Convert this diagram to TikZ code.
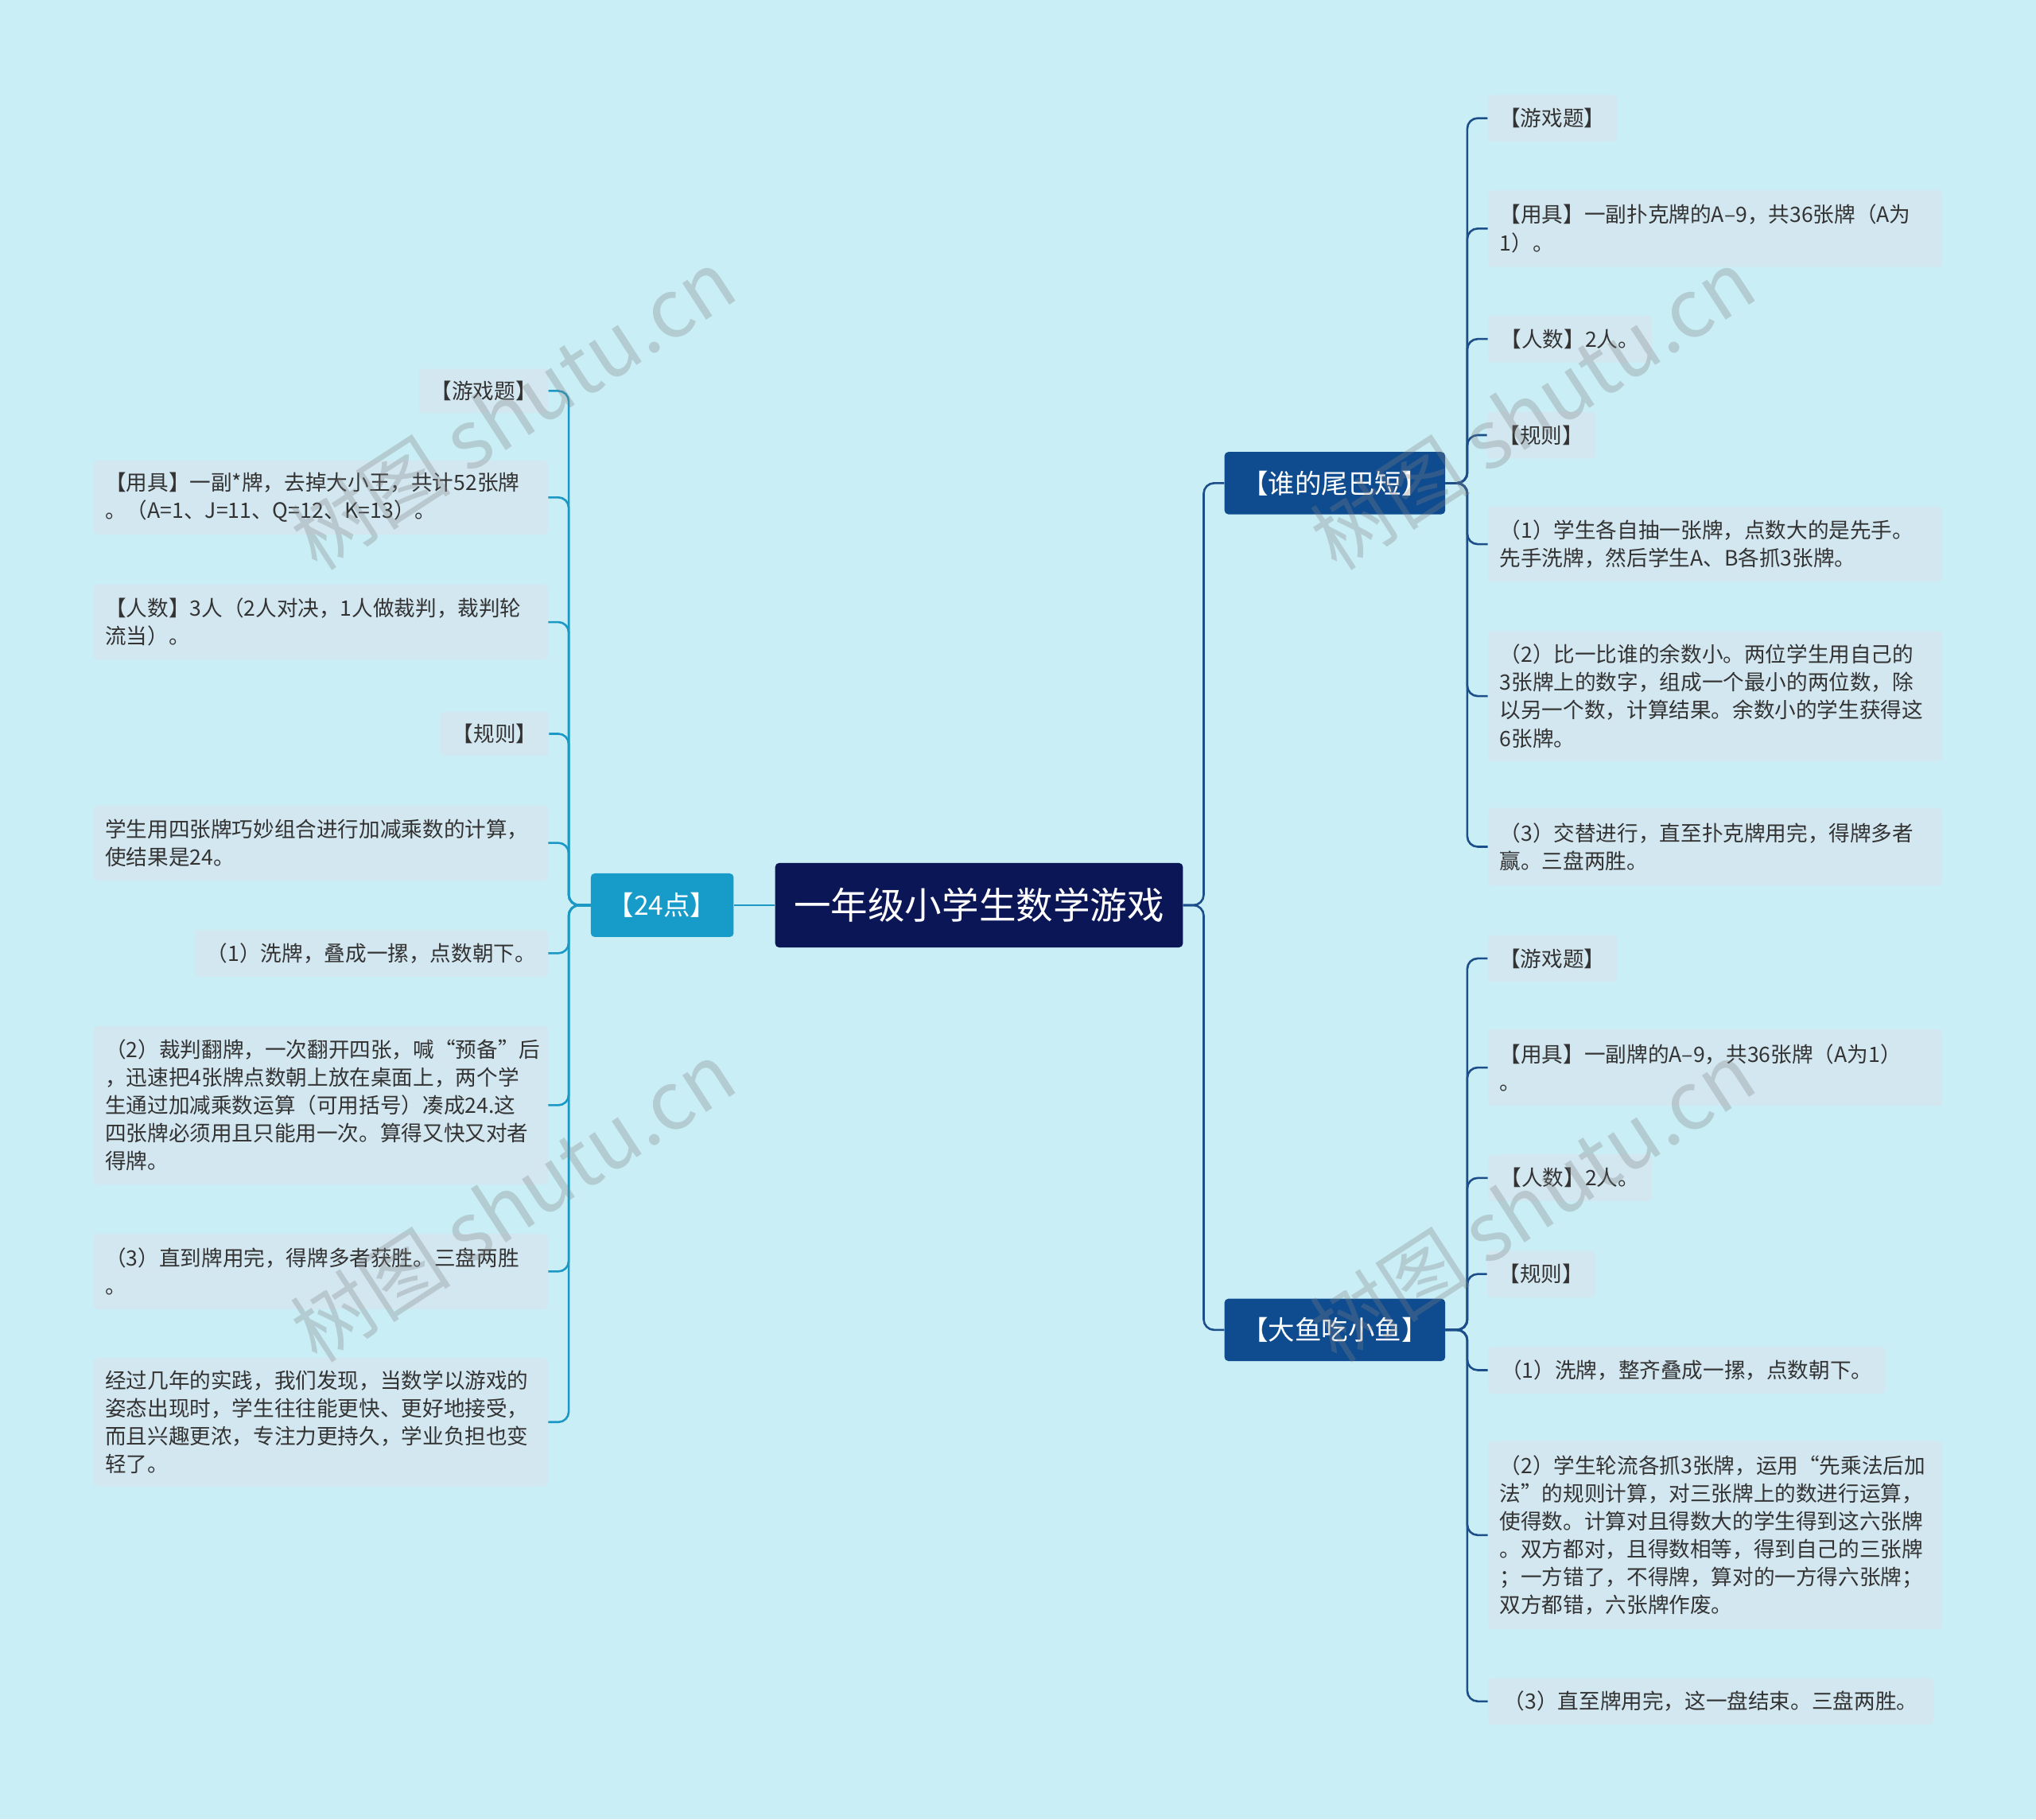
\documentclass[tikz,border=0pt]{standalone}
\usepackage{fontspec}
\setmainfont{Noto Sans CJK SC}
\begin{document}
\begin{tikzpicture}[x=1pt,y=-1pt,
 leaf/.style={fill=leafc,rounded corners=3pt,inner xsep=9pt,inner ysep=0pt,align=left,font=\fontsize{16.3}{21.5}\selectfont,text=black!80},
 rl/.style={draw=rline,line width=1.6pt,rounded corners=8pt},
 ll/.style={draw=lline,line width=1.6pt,rounded corners=8pt},
 wm/.style={font=\fontsize{62}{64}\selectfont,text=gray,opacity=0.3,rotate=33}]
\definecolor{bg}{HTML}{C9EEF6}
\definecolor{leafc}{HTML}{D3E7F1}
\definecolor{rootc}{HTML}{0B1657}
\definecolor{rbr}{HTML}{0F4C8F}
\definecolor{lbr}{HTML}{179BC8}
\definecolor{rline}{HTML}{1C4E8A}
\definecolor{lline}{HTML}{1B98C4}
\fill[bg] (0,0) rectangle (1568,1401);
\useasboundingbox (0,0) rectangle (1568,1401);
% root and branches
\node[fill=rootc,text=white,rounded corners=3pt,minimum width=314pt,minimum height=65pt,font=\fontsize{28.5}{32}\selectfont] (root) at (754,697) {一年级小学生数学游戏};
\node[fill=lbr,text=white,rounded corners=3pt,minimum width=110pt,minimum height=49pt,font=\fontsize{20.5}{24}\selectfont] (b24) at (510,697) {【24点】};
\node[fill=rbr,text=white,rounded corners=3pt,minimum width=170pt,minimum height=48pt,font=\fontsize{20.5}{24}\selectfont] (bw) at (1028,372) {【谁的尾巴短】};
\node[fill=rbr,text=white,rounded corners=3pt,minimum width=170pt,minimum height=48pt,font=\fontsize{20.5}{24}\selectfont] (bd) at (1028,1024) {【大鱼吃小鱼】};
\draw[ll] (root.west) -- (b24.east);
\draw[rl] (root.east) -- (927,697) |- (bw.west);
\draw[rl] (root.east) -- (927,697) |- (bd.west);
% left leaves
\node[leaf,minimum width=99pt,minimum height=34pt] (l1) at (372.5,301) {【游戏题】};
\node[leaf,text width=332pt,minimum height=57pt] (l2) at (247,383) {【用具】一副*牌，去掉大小王，共计52张牌\\。（A=1、J=11、Q=12、K=13）。};
\node[leaf,text width=332pt,minimum height=58pt] (l3) at (247,479) {【人数】3人（2人对决，1人做裁判，裁判轮\\流当）。};
\node[leaf,minimum width=82pt,minimum height=34pt] (l4) at (381,565) {【规则】};
\node[leaf,text width=332pt,minimum height=58pt] (l5) at (247,649) {学生用四张牌巧妙组合进行加减乘数的计算，\\使结果是24。};
\node[leaf,minimum width=272pt,minimum height=36pt] (l6) at (286,734) {（1）洗牌，叠成一摞，点数朝下。};
\node[leaf,text width=332pt,minimum height=122pt] (l7) at (247,851) {（2）裁判翻牌，一次翻开四张，喊“预备”后\\，迅速把4张牌点数朝上放在桌面上，两个学\\生通过加减乘数运算（可用括号）凑成24.这\\四张牌必须用且只能用一次。算得又快又对者\\得牌。};
\node[leaf,text width=332pt,minimum height=58pt] (l8) at (247,979) {（3）直到牌用完，得牌多者获胜。三盘两胜\\。};
\node[leaf,text width=332pt,minimum height=99pt] (l9) at (247,1095) {经过几年的实践，我们发现，当数学以游戏的\\姿态出现时，学生往往能更快、更好地接受，\\而且兴趣更浓，专注力更持久，学业负担也变\\轻了。};
\foreach \n in {l1,l2,l3,l4,l5,l6,l7,l8,l9}
  \draw[ll] (b24.west) -- (438,697) |- (\n.east);
% right top leaves
\node[leaf,minimum width=99pt,minimum height=36pt] (r1) at (1195.5,91) {【游戏题】};
\node[leaf,text width=332pt,minimum height=59pt] (r2) at (1321,176) {【用具】一副扑克牌的A–9，共36张牌（A为\\1）。};
\node[leaf,minimum width=126pt,minimum height=36pt] (r3) at (1209,261) {【人数】2人。};
\node[leaf,minimum width=82pt,minimum height=36pt] (r4) at (1187,335) {【规则】};
\node[leaf,text width=332pt,minimum height=58pt] (r5) at (1321,419) {（1）学生各自抽一张牌，点数大的是先手。\\先手洗牌，然后学生A、B各抓3张牌。};
\node[leaf,text width=332pt,minimum height=100pt] (r6) at (1321,536) {（2）比一比谁的余数小。两位学生用自己的\\3张牌上的数字，组成一个最小的两位数，除\\以另一个数，计算结果。余数小的学生获得这\\6张牌。};
\node[leaf,text width=332pt,minimum height=60pt] (r7) at (1321,652) {（3）交替进行，直至扑克牌用完，得牌多者\\赢。三盘两胜。};
\foreach \n in {r1,r2,r3,r4,r5,r6,r7}
  \draw[rl] (bw.east) -- (1130,372) |- (\n.west);
% right bottom leaves
\node[leaf,minimum width=99pt,minimum height=36pt] (s1) at (1195.5,738) {【游戏题】};
\node[leaf,text width=332pt,minimum height=59pt] (s2) at (1321,822) {【用具】一副牌的A–9，共36张牌（A为1）\\。};
\node[leaf,minimum width=126pt,minimum height=36pt] (s3) at (1209,907) {【人数】2人。};
\node[leaf,minimum width=82pt,minimum height=36pt] (s4) at (1187,981) {【规则】};
\node[leaf,minimum width=306pt,minimum height=36pt] (s5) at (1299,1055) {（1）洗牌，整齐叠成一摞，点数朝下。};
\node[leaf,text width=332pt,minimum height=145pt] (s6) at (1321,1182) {（2）学生轮流各抓3张牌，运用“先乘法后加\\法”的规则计算，对三张牌上的数进行运算，\\使得数。计算对且得数大的学生得到这六张牌\\。双方都对，且得数相等，得到自己的三张牌\\；一方错了，不得牌，算对的一方得六张牌；\\双方都错，六张牌作废。};
\node[leaf,minimum width=343pt,minimum height=36pt] (s7) at (1317.5,1310) {（3）直至牌用完，这一盘结束。三盘两胜。};
\foreach \n in {s1,s2,s3,s4,s5,s6,s7}
  \draw[rl] (bd.east) -- (1130,1024) |- (\n.west);
% watermarks
\node[wm] (w1) at (395,315) {树图 shutu.cn};
\node[wm] (w2) at (395,925) {树图 shutu.cn};
\node[wm] (w3) at (1180,315) {树图 shutu.cn};
\node[wm] (w4) at (1180,925) {树图 shutu.cn};
\end{tikzpicture}
\end{document}
